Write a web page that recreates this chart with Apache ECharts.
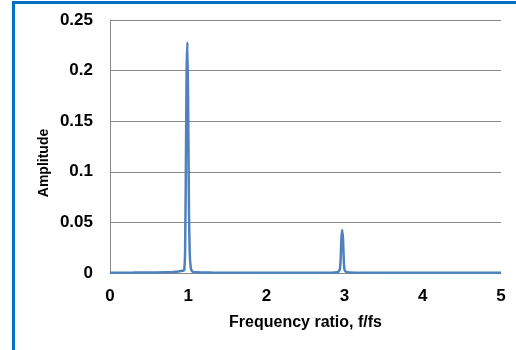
<!DOCTYPE html>
<html lang="en">
  <head>
    <meta charset="UTF-8" />
    <title>Frequency spectrum</title>
    <script src="https://cdn.jsdelivr.net/npm/echarts@6.0.0/dist/echarts.min.js"></script>
    <style>
      html, body { margin: 0; padding: 0; background: #fff; overflow: hidden; }
    </style>
  </head>
  <body>
    <div id="main" style="width: 516px; height: 350px"></div>
    <script type="text/javascript">
      // values
      const freqRatio = [0, 0.3, 0.6, 0.8, 0.88, 0.92, 0.94, 0.95, 0.96, 0.97, 0.98, 0.99, 1.0, 1.01,
        1.02, 1.03, 1.04, 1.06, 1.1, 1.3, 2.0, 2.6, 2.85, 2.9, 2.92, 2.94, 2.95, 2.96, 2.97, 2.98,
        2.99, 3.0, 3.02, 3.06, 3.3, 4.0, 5.0];
      const amplitude = [0.0003, 0.0004, 0.0006, 0.001, 0.0015, 0.0022, 0.0025, 0.003, 0.02, 0.1,
        0.2, 0.228, 0.16, 0.06, 0.018, 0.007, 0.003, 0.0012, 0.0007, 0.0004, 0.0003, 0.0003, 0.0005,
        0.0008, 0.0012, 0.004, 0.015, 0.035, 0.0425, 0.033, 0.012, 0.003, 0.0012, 0.0006, 0.0003,
        0.0002, 0.0002];
      const yTicks = [0, 0.05, 0.1, 0.15, 0.2, 0.25];

      const points = freqRatio.map((f, i) => [f, amplitude[i]]);

      let myChart = echarts.init(document.getElementById("main"));
      let options = {
        animation: false,
        graphic: [
          {
            type: "rect",
            shape: { x: 13.5, y: 2.5, width: 700, height: 500 },
            style: { fill: "none", stroke: "#0070C0", lineWidth: 3 },
            silent: true,
          },
          {
            // y axis title, sits a bit below the plot middle in the reference
            type: "text",
            x: 44,
            y: 163,
            rotation: Math.PI / 2,
            style: {
              text: "Amplitude",
              fontFamily: "Liberation Sans",
              fontWeight: "bold",
              fontSize: 14,
              fill: "#000",
              align: "center",
              verticalAlign: "middle",
            },
            silent: true,
          },
        ],
        grid: { left: 110, right: 15, top: 20, bottom: 77 },
        xAxis: {
          type: "value",
          min: 0,
          max: 5,
          interval: 1,
          name: "Frequency ratio, f/fs",
          nameLocation: "middle",
          nameGap: 42,
          nameTextStyle: { fontFamily: "Liberation Sans", fontWeight: "bold", fontSize: 16, color: "#000" },
          axisLine: { show: true, lineStyle: { color: "#898989", width: 1 } },
          axisTick: { show: false },
          axisLabel: { fontFamily: "Liberation Sans", fontWeight: "bold", fontSize: 17, color: "#000", margin: 15 },
          splitLine: { show: false },
        },
        yAxis: {
          type: "value",
          min: 0,
          max: 0.25,
          interval: 0.05,
          axisLine: { show: true, lineStyle: { color: "#898989", width: 1 } },
          axisTick: { show: false },
          axisLabel: {
            fontFamily: "Liberation Sans",
            fontWeight: "bold",
            fontSize: 17,
            color: "#000",
            margin: 17,
            formatter: (v) => (yTicks.includes(Math.round(v * 100) / 100) ? String(Math.round(v * 100) / 100) : ""),
          },
          splitLine: { show: true, lineStyle: { color: "#898989", width: 1 } },
        },
        series: [
          {
            type: "line",
            data: points,
            showSymbol: false,
            smooth: 0.2,
            lineStyle: { color: "#4F81BD", width: 2.5 },
          },
        ],
      };
      myChart.setOption(options);
    </script>
  </body>
</html>
